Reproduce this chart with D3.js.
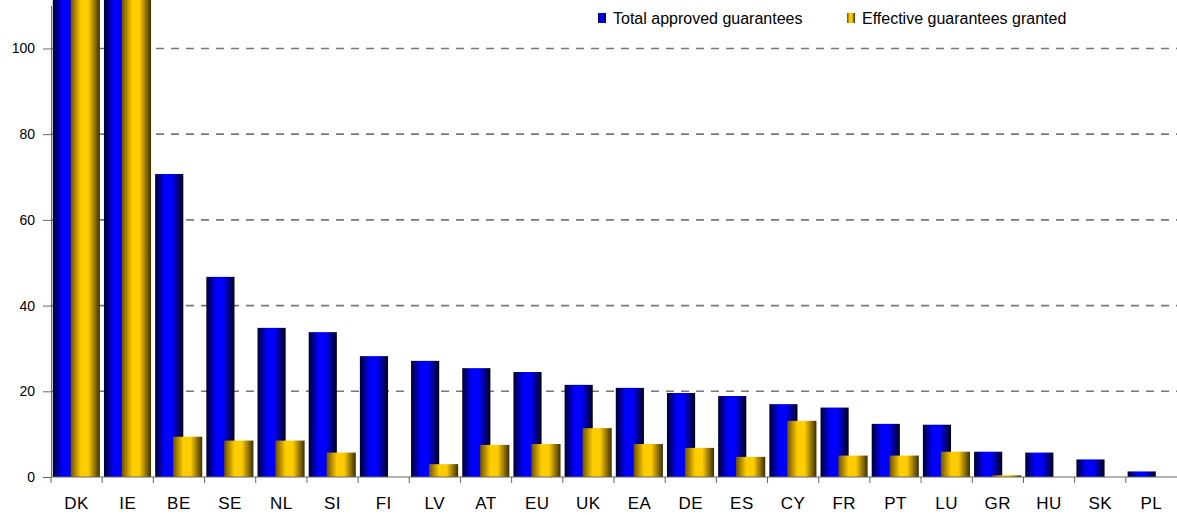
<!DOCTYPE html>
<html>
<head>
<meta charset="utf-8">
<script src="https://cdn.jsdelivr.net/npm/d3@7"></script>
<style>
  body { margin: 0; background: #fff; }
  text { font-family: 'Liberation Sans', Arial, sans-serif; fill: #000; }
</style>
</head>
<body>
<svg class="chart"></svg>
<script>
const countries = ['DK', 'IE', 'BE', 'SE', 'NL', 'SI', 'FI', 'LV', 'AT', 'EU', 'UK',
  'EA', 'DE', 'ES', 'CY', 'FR', 'PT', 'LU', 'GR', 'HU', 'SK', 'PL'];
// both DK and IE run off the top of the chart
const totalApproved = [253, 229, 70.7, 46.7, 34.8, 33.8, 28.2, 27.1, 25.4, 24.5, 21.5,
  20.8, 19.6, 18.9, 17.0, 16.2, 12.4, 12.2, 5.9, 5.7, 4.1, 1.3];
const effectiveGranted = [253, 229, 9.4, 8.5, 8.5, 5.7, 0, 3.0, 7.5, 7.7, 11.4,
  7.7, 6.8, 4.7, 13.1, 5.0, 5.0, 5.9, 0.4, 0, 0, 0];
const seriesNames = ['Total approved guarantees', 'Effective guarantees granted'];
const yTicks = [0, 20, 40, 60, 80, 100];

const createShade = (defs, id, stops) => {
  const grad = defs.append('linearGradient')
    .attr('id', id)
    .attr('x1', '0%').attr('x2', '100%')
    .attr('y1', '0%').attr('y2', '0%');
  stops.forEach(([offset, color]) => {
    grad.append('stop').attr('offset', offset).attr('stop-color', color);
  });
};

const startApp = () => {
  const width = 1177;
  const height = 515;
  const plot = { left: 51, right: 1177, top: 5.6, bottom: 477 };

  const svg = d3.select('.chart')
    .attr('width', width)
    .attr('height', height);

  const defs = svg.append('defs');
  createShade(defs, 'blueShade', [
    ['0%', '#000030'], ['35%', '#0000ff'], ['60%', '#0000ff'], ['100%', '#000018']]);
  createShade(defs, 'goldShade', [
    ['0%', '#6e5200'], ['35%', '#ffcc00'], ['60%', '#ffcc00'], ['100%', '#3c2e00']]);
  // bars that run off the scale are cut at the top edge of the picture
  defs.append('clipPath').attr('id', 'plotClip')
    .append('rect')
    .attr('x', plot.left)
    .attr('y', 0)
    .attr('width', plot.right - plot.left)
    .attr('height', plot.bottom);

  const xScale = d3.scaleBand().domain(countries).range([plot.left, plot.right]);
  const yScale = d3.scaleLinear().domain([0, 110]).range([plot.bottom, plot.top]);
  const bw = xScale.bandwidth();

  // dashed gridlines
  svg.append('g')
    .selectAll('line')
    .data(yTicks.filter(t => t > 0))
    .enter()
    .append('line')
    .attr('x1', plot.left)
    .attr('x2', plot.right)
    .attr('y1', d => yScale(d))
    .attr('y2', d => yScale(d))
    .attr('stroke', '#777')
    .attr('stroke-width', 1.6)
    .attr('stroke-dasharray', '8,7');

  const bars = svg.append('g').attr('clip-path', 'url(#plotClip)');

  bars.selectAll('rect.total')
    .data(countries)
    .enter()
    .append('rect')
    .attr('class', 'total')
    .attr('x', d => xScale(d) + bw * 0.035)
    .attr('width', bw * 0.55)
    .attr('y', (d, i) => yScale(totalApproved[i]))
    .attr('height', (d, i) => yScale(0) - yScale(totalApproved[i]))
    .attr('fill', 'url(#blueShade)');

  bars.selectAll('rect.effective')
    .data(countries)
    .enter()
    .append('rect')
    .attr('class', 'effective')
    .attr('x', d => xScale(d) + bw * 0.385)
    .attr('width', bw * 0.57)
    .attr('y', (d, i) => yScale(effectiveGranted[i]))
    .attr('height', (d, i) => yScale(0) - yScale(effectiveGranted[i]))
    .attr('fill', 'url(#goldShade)');

  // y axis
  const yAxis = d3.axisLeft(yScale)
    .tickValues(yTicks)
    .tickSize(8)
    .tickPadding(8)
    .tickSizeOuter(0);
  const yG = svg.append('g')
    .attr('transform', `translate(${plot.left},0)`)
    .call(yAxis);
  yG.select('.domain').attr('stroke', '#666');
  yG.selectAll('.tick line').attr('stroke', '#666');
  yG.selectAll('.tick text')
    .attr('font-size', 14)
    .attr('font-family', "'Liberation Sans', Arial, sans-serif")
    .attr('fill', '#000');

  // x axis: tick marks sit on band edges
  const xG = svg.append('g')
    .attr('transform', `translate(0,${plot.bottom})`);
  xG.append('line')
    .attr('x1', plot.left)
    .attr('x2', plot.right)
    .attr('stroke', '#666');
  xG.selectAll('line.edge')
    .data(countries)
    .enter()
    .append('line')
    .attr('class', 'edge')
    .attr('x1', d => xScale(d))
    .attr('x2', d => xScale(d))
    .attr('y1', 0)
    .attr('y2', 6)
    .attr('stroke', '#666');
  xG.selectAll('text')
    .data(countries)
    .enter()
    .append('text')
    .attr('x', d => xScale(d) + bw / 2)
    .attr('y', 32)
    .attr('text-anchor', 'middle')
    .attr('font-size', 17)
    .attr('letter-spacing', 0.5)
    .text(d => d);

  // legend
  const legend = svg.append('g');
  const legendX = [598, 847];
  const shades = ['url(#blueShade)', 'url(#goldShade)'];
  seriesNames.forEach((name, i) => {
    legend.append('rect')
      .attr('x', legendX[i])
      .attr('y', 13)
      .attr('width', 8)
      .attr('height', 10)
      .attr('fill', shades[i]);
    legend.append('text')
      .attr('x', legendX[i] + 15)
      .attr('y', 24)
      .attr('font-size', 16)
      .text(name);
  });
};

window.onload = startApp;
</script>
</body>
</html>
